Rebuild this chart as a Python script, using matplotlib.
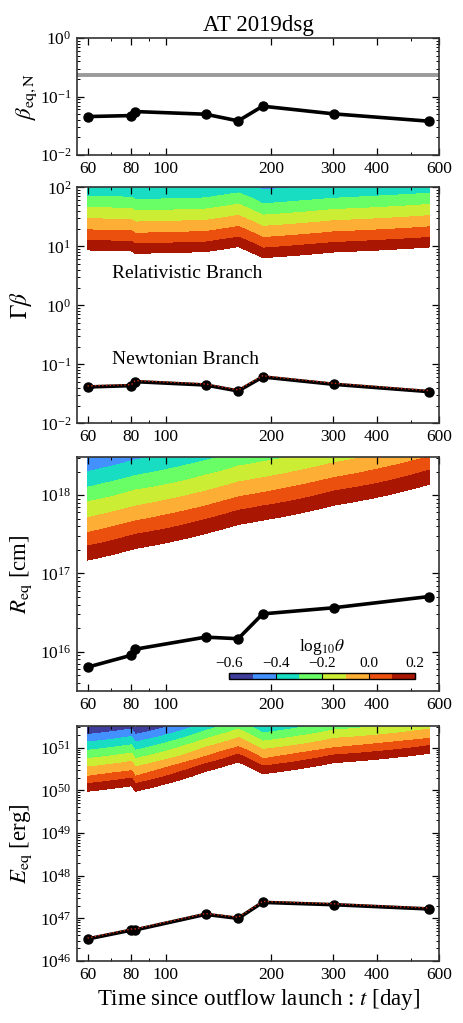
import numpy as np
import matplotlib
matplotlib.use('Agg')
import matplotlib.pyplot as plt
from matplotlib.ticker import LogLocator, NullFormatter

plt.rcParams['font.family'] = ['Liberation Serif', 'DejaVu Serif']
plt.rcParams['mathtext.fontset'] = 'stix'
plt.rcParams['xtick.direction'] = 'in'
plt.rcParams['ytick.direction'] = 'in'
plt.rcParams['xtick.top'] = True
plt.rcParams['ytick.right'] = True

# observation epochs [day]
t_day = [60, 80, 82, 130, 161, 189, 301, 563]

# equipartition values (Newtonian branch)
beta_eq = [0.0454, 0.0472, 0.0553, 0.0498, 0.0383, 0.0683, 0.0505, 0.0378]
beta_max = 0.235
gb_newt = [0.0413, 0.0435, 0.0508, 0.0446, 0.0353, 0.0610, 0.0458, 0.0344]
gb_newt_alt = [0.0430, 0.0452, 0.0530, 0.0465, 0.0368, 0.0640, 0.0478, 0.0358]
r_eq = [6.37e15, 9.06e15, 1.08e16, 1.54e16, 1.47e16, 3.05e16, 3.65e16, 5.08e16]
e_eq = [3.28e46, 5.30e46, 5.35e46, 1.24e47, 1.00e47, 2.37e47, 2.09e47, 1.66e47]
e_eq_alt = [3.45e46, 5.60e46, 5.65e46, 1.30e47, 1.06e47, 2.50e47, 2.20e47, 1.75e47]

# relativistic branch: log10 value of the log10(theta)=0.2 boundary at each epoch,
# and offsets (dex) of the successive theta levels above it
theta_levels = [0.2, 0.1, 0.0, -0.1, -0.2, -0.3, -0.4, -0.5, -0.6]
gb_rel_base = [0.938, 0.921, 0.881, 0.910, 0.994, 0.808, 0.904, 0.989]
gb_rel_step = [0, 0.16, 0.34, 0.53, 0.72, 0.91, 1.15, 1.38, 1.58]
r_rel_base = [17.17, 17.306, 17.319, 17.511, 17.626, 17.681, 17.872, 18.14]
r_rel_step = [0, 0.18, 0.35, 0.54, 0.745, 0.93, 1.13, 1.33, 1.52]
e_rel_base = [49.98, 50.11, 49.98, 50.445, 50.67, 50.39, 50.65, 50.87]
e_rel_step = [0, 0.18, 0.35, 0.57, 0.765, 0.96, 1.155, 1.33, 1.50]

xticks = [60, 80, 100, 200, 300, 400, 600]


def theta_field(base, step, ylo, yhi):
    logy = np.linspace(ylo, yhi, 900)
    fp = np.array(theta_levels)
    z = np.empty((len(logy), len(base)))
    for j, b in enumerate(base):
        xp = b + np.array(step)
        col = np.interp(logy, xp, fp)
        s0 = (fp[1] - fp[0]) / (xp[1] - xp[0])
        s1 = (fp[-1] - fp[-2]) / (xp[-1] - xp[-2])
        col = np.where(logy < xp[0], fp[0] + s0 * (logy - xp[0]), col)
        col = np.where(logy > xp[-1], fp[-1] + s1 * (logy - xp[-1]), col)
        z[:, j] = col
    return 10 ** logy, z


def style(ax, ylim, labx=-0.12):
    ax.set_xscale('log')
    ax.set_yscale('log')
    ax.set_xlim(56, 600)
    ax.set_ylim(*ylim)
    ax.set_xticks(xticks)
    ax.set_xticklabels([str(v) for v in xticks])
    ax.xaxis.set_minor_locator(LogLocator(subs=np.arange(1, 10)))
    ax.xaxis.set_minor_formatter(NullFormatter())
    ax.yaxis.set_minor_locator(LogLocator(subs=np.arange(2, 10), numticks=20))
    ax.yaxis.set_minor_formatter(NullFormatter())
    ax.tick_params(which='major', length=5, width=0.9, labelsize=12.5, pad=4)
    ax.tick_params(which='minor', length=2.5, width=0.7)
    for s in ax.spines.values():
        s.set_linewidth(1.2)
        s.set_color('#333333')
    ax.yaxis.set_label_coords(labx, 0.5)


W, H = 463, 1023
fig = plt.figure(figsize=(W / 100, H / 100), dpi=100)
L, Wd = 77 / W, 362 / W
ax1 = fig.add_axes([L, 1 - 155 / H, Wd, 117 / H])
ax2 = fig.add_axes([L, 1 - 423.3 / H, Wd, 236 / H])
ax3 = fig.add_axes([L, 1 - 691 / H, Wd, 234.3 / H])
ax4 = fig.add_axes([L, 1 - 961 / H, Wd, 235 / H])

lev = sorted(theta_levels)
lkw = dict(color='black', lw=2.6, marker='o', ms=6.5, zorder=5)
dkw = dict(color='#d03010', lw=1.0, ls=':', zorder=6)

# panel 1
ax1.axhline(beta_max, color='#9a9a9a', lw=2.8)
ax1.plot(t_day, beta_eq, **lkw)
style(ax1, (1e-2, 1), labx=-0.105)
ax1.set_ylabel(r'$\beta_{\rm eq,N}$', fontsize=16.5)
ax1.set_title('AT 2019dsg', fontsize=16.5, pad=5)

# panel 2
y, z = theta_field(gb_rel_base, gb_rel_step, -2, 2)
ax2.contourf(t_day, y, z, levels=lev, cmap='turbo')
ax2.plot(t_day, gb_newt, **lkw)
ax2.plot(t_day, gb_newt_alt, **dkw)
style(ax2, (1e-2, 1e2))
ax2.text(70.5, 3.5, 'Relativistic Branch', fontsize=14, va='center')
ax2.text(70.5, 0.12, 'Newtonian Branch', fontsize=14, va='center')
ax2.set_ylabel(r'$\Gamma\beta$', fontsize=17)

# panel 3
y, z = theta_field(r_rel_base, r_rel_step, 15.5, 18.5)
cs = ax3.contourf(t_day, y, z, levels=lev, cmap='turbo')
ax3.plot(t_day, r_eq, **lkw)
style(ax3, (10 ** 15.5, 10 ** 18.49))
ax3.set_ylabel(r'$R_{\rm eq}$ [cm]', fontsize=16.5)

cax = fig.add_axes([229.3 / W, 1 - 679.3 / H, 186 / W, 6.6 / H])
cb = fig.colorbar(cs, cax=cax, orientation='horizontal', ticks=[-0.6, -0.4, -0.2, 0.0, 0.2])
cax.xaxis.set_ticks_position('top')
cax.xaxis.set_label_position('top')
cax.tick_params(labelsize=11, length=4, direction='in', pad=2)
cb.set_label(r'log$_{10}\theta$', fontsize=12.5, labelpad=4)
cb.outline.set_linewidth(1.0)

# panel 4
y, z = theta_field(e_rel_base, e_rel_step, 46, 51.51)
ax4.contourf(t_day, y, z, levels=lev, cmap='turbo')
ax4.plot(t_day, e_eq, **lkw)
ax4.plot(t_day, e_eq_alt, **dkw)
style(ax4, (1e46, 10 ** 51.51))
ax4.set_ylabel(r'$E_{\rm eq}$ [erg]', fontsize=16.5)
ax4.set_xlabel(r'Time since outflow launch : $t$ [day]', fontsize=16.5, labelpad=3)

fig.savefig('out.png', dpi=100)
